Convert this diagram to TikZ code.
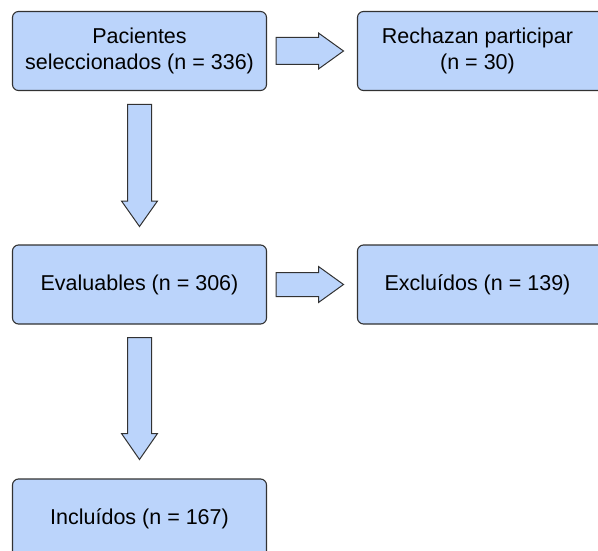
\documentclass[tikz,border=0pt]{standalone}
\usepackage{fontspec}
\setmainfont{Liberation Sans}
\usetikzlibrary{shapes.arrows}
\definecolor{boxfill}{RGB}{187,212,251}
\definecolor{boxline}{RGB}{50,50,50}
\begin{document}
\begin{tikzpicture}[x=1pt,y=-1pt,
  flowbox/.style={draw=boxline,fill=boxfill,line width=1.1pt,rounded corners=6pt},
  boxtext/.style={font=\fontsize{21.5}{26}\selectfont,align=center,text=black},
  blockarrow/.style={draw=boxline,fill=boxfill,line width=1pt,line join=miter}]
\useasboundingbox (0,0) rectangle (598,551);
% boxes
\path[flowbox] (12.5,11.5) rectangle (266.5,90.5);
\node[boxtext] (b1) at (139.5,51) {Pacientes\\seleccionados (n = 336)};
\path[flowbox] (357.5,11.5) rectangle (604,90.5);
\node[boxtext] (b2) at (477.5,51) {Rechazan participar\\(n = 30)};
\path[flowbox] (12.5,245) rectangle (266.5,324);
\node[boxtext] (b3) at (139.5,284.5) {Evaluables (n = 306)};
\path[flowbox] (357.5,245) rectangle (604,324);
\node[boxtext] (b4) at (477.5,284.5) {Excluídos (n = 139)};
\path[flowbox] (12.5,479) rectangle (266.5,558);
\node[boxtext] (b5) at (139.5,518.5) {Incluídos (n = 167)};
% block arrows
\draw[blockarrow] (276,37.5) -- (318.5,37.5) -- (318.5,33) -- (343.5,51) -- (318.5,69) -- (318.5,64.5) -- (276,64.5) -- cycle;
\draw[blockarrow] (276,272.5) -- (318.5,272.5) -- (318.5,266.5) -- (343.5,284.5) -- (318.5,302.5) -- (318.5,296.5) -- (276,296.5) -- cycle;
\draw[blockarrow] (127.5,104.5) -- (151.5,104.5) -- (151.5,201) -- (157.5,201) -- (139.5,226.5) -- (121.5,201) -- (127.5,201) -- cycle;
\draw[blockarrow] (127.5,337.5) -- (151.5,337.5) -- (151.5,433.5) -- (157.5,433.5) -- (139.5,459.5) -- (121.5,433.5) -- (127.5,433.5) -- cycle;
\end{tikzpicture}
\end{document}
